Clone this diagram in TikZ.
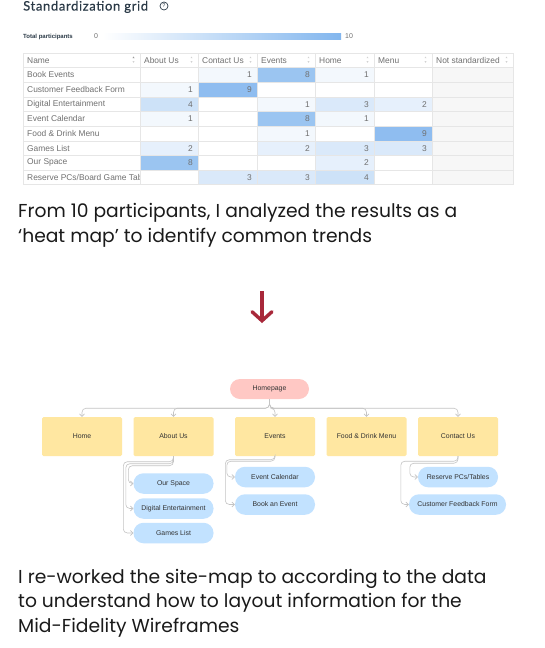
\documentclass[tikz,border=0pt]{standalone}
\usepackage{fontspec}
\setmainfont{Liberation Sans}
\newfontfamily\parafont{Poppins}
\newfontfamily\titlefont{Lato}[LetterSpace=5,FakeBold=0.5]
\usetikzlibrary{arrows.meta,calc}
\definecolor{heat}{HTML}{82B6EE}
\definecolor{gridline}{HTML}{E6E6E6}
\definecolor{celltext}{HTML}{707070}
\definecolor{titlecol}{HTML}{2B3A47}
\definecolor{nsbg}{HTML}{F7F7F7}
\definecolor{yel}{HTML}{FFE7A1}
\definecolor{pinkc}{HTML}{FFC8C4}
\definecolor{pillblue}{HTML}{C2E2FF}
\definecolor{conngray}{HTML}{C4C4C4}
\definecolor{darktext}{HTML}{333333}
\definecolor{redarr}{HTML}{A8283A}
\definecolor{paratext}{HTML}{1A1A1A}
\tikzset{
  celltxt/.style={inner sep=0pt, text=celltext, font=\fontsize{8.4}{9}\selectfont},
  ybox/.style={fill=yel, minimum width=80pt, minimum height=39pt, rounded corners=1.5pt, inner sep=0pt, text=darktext, font=\fontsize{6.9}{8}\selectfont},
  pill/.style={fill=pillblue, rounded corners=10pt, minimum width=80pt, minimum height=20.5pt, inner sep=0pt, text=darktext, font=\fontsize{6.9}{8}\selectfont},
  conn/.style={draw=conngray, line width=0.6pt, rounded corners=4pt, -{Straight Barb[length=2.5pt,width=5pt]}},
  paraline/.style={anchor=base west, inner sep=0pt, text=paratext, font=\parafont\fontsize{18.7}{22}\selectfont},
}
\begin{document}
\begin{tikzpicture}[x=1pt,y=-1pt]
\useasboundingbox (0,0) rectangle (544,648);
\fill[white] (0,0) rectangle (544,648);

% ---------- title ----------
\node[anchor=base west, inner sep=0pt, text=titlecol, font=\titlefont\fontsize{13}{16}\selectfont] (title) at (23,10.5) {Standardization grid};
\node[circle, draw=titlecol, line width=0.7pt, minimum size=8pt, inner sep=0pt, text=titlecol, font=\fontsize{5.5}{6}\selectfont] (info) at (164,6) {?};

% ---------- total participants ----------
\node[anchor=west, inner sep=0pt, text=titlecol, font=\bfseries\fontsize{6}{7}\selectfont] (tp) at (23,36.5) {Total participants};
\node[anchor=west, inner sep=0pt, text=celltext, font=\fontsize{7}{8}\selectfont] (tp0) at (94,36.5) {0};
\shade[left color=white, right color=heat] (103,33.5) rectangle (341,39.5);
\node[anchor=west, inner sep=0pt, text=celltext, font=\fontsize{7}{8}\selectfont] (tp10) at (345,36.5) {10};

% ---------- table ----------
\def\colx{{23,140,198,257,315,374,432,513}}
\def\rh{14.65}
\fill[nsbg] (432,53+\rh) rectangle (513,53+9*\rh);
\foreach \r/\vals in {1/{0,1,8,1,0},2/{1,9,0,0,0},3/{4,0,1,3,2},4/{1,0,8,1,0},5/{0,0,1,0,9},6/{2,0,2,3,3},7/{8,0,0,2,0},8/{0,3,3,4,0}}{
  \foreach \v [count=\c] in \vals {
    \pgfmathsetmacro\xl{\colx[\c]}
    \pgfmathsetmacro\xr{\colx[\c+1]}
    \pgfmathsetmacro\yt{53+\r*\rh}
    \pgfmathsetmacro\pct{int(\v*10)}
    \ifnum\v>0
      \fill[heat!\pct!white] (\xl,\yt) rectangle (\xr,\yt+\rh);
      \node[celltxt, anchor=east] (v\r-\c) at (\xr-5,\yt+\rh/2) {\v};
    \fi
  }
}
\foreach \nm [count=\r] in {Book Events,Customer Feedback Form,Digital Entertainment,Event Calendar,Food \& Drink Menu,Games List,Our Space}{
  \node[celltxt, anchor=west] (n\r) at (27,53+\r*\rh+\rh/2) {\nm};
}
\begin{scope}
\clip (23,53+8*\rh) rectangle (140,53+9*\rh);
\node[celltxt, anchor=west] (n8) at (27,53+8*\rh+\rh/2) {Reserve PCs/Board Game Tables};
\end{scope}
\foreach \hd [count=\c from 0] in {Name,About Us,Contact Us,Events,Home,Menu,Not standardized}{
  \pgfmathsetmacro\xl{\colx[\c]}
  \pgfmathsetmacro\xr{\colx[\c+1]}
  \node[celltxt, anchor=west] (h\c) at (\xl+4,53+\rh/2) {\hd};
  \fill[gray!35] (\xr-7.5,58.2) -- (\xr-5.5,58.2) -- (\xr-6.5,56.6) -- cycle;
  \fill[gray!35] (\xr-7.5,61.2) -- (\xr-5.5,61.2) -- (\xr-6.5,62.8) -- cycle;
}
\fill[gray!80] (140-7.5,58.2) -- (140-5.5,58.2) -- (140-6.5,56.6) -- cycle;
\foreach \i in {0,...,9}{
  \draw[gridline, line width=0.8pt] (23,53+\i*\rh) -- (513,53+\i*\rh);
}
\foreach \c in {0,...,7}{
  \pgfmathsetmacro\xx{\colx[\c]}
  \draw[gridline, line width=0.8pt] (\xx,53) -- (\xx,53+9*\rh);
}

% ---------- paragraph 1 ----------
\node[paraline] (p1a) at (18,217) {From 10 participants, I analyzed the results as a};
\node[paraline] (p1b) at (18,242) {‘heat map’ to identify common trends};

% ---------- red arrow ----------
\coordinate (arrA) at (262,291);
\coordinate (arrB) at (262,323);
\draw[redarr, line width=3.4pt, -{Straight Barb[length=9pt,width=20pt,line cap=round]}] (arrA) -- (arrB);

% ---------- sitemap ----------
\node[fill=pinkc, rounded corners=10pt, minimum width=79pt, minimum height=20pt, inner sep=0pt, text=darktext, font=\fontsize{6.9}{8}\selectfont] (hp) at (269.5,389) {Homepage};
\node[ybox] (s1) at (82,436.5) {Home};
\node[ybox] (s2) at (173.5,436.5) {About Us};
\node[ybox] (s3) at (275,436.5) {Events};
\node[ybox] (s4) at (366.5,436.5) {Food \& Drink Menu};
\node[ybox] (s5) at (458,436.5) {Contact Us};

\foreach \t in {s1,s2,s3,s4,s5}{
  \draw[conn] (hp.south) -- ++(0,9) -| (\t.north);
}

\node[pill] (a1) at (173.5,483.5) {Our Space};
\node[pill] (a2) at (173.5,508.5) {Digital Entertainment};
\node[pill] (a3) at (173.5,533) {Games List};
\node[pill] (e1) at (275,477) {Event Calendar};
\node[pill] (e2) at (275,504.5) {Book an Event};
\node[pill] (c1) at (458,477) {Reserve PCs/Tables};
\node[pill, minimum width=97pt] (c2) at (457.5,504.5) {Customer Feedback Form};

\draw[conn] (s2.south) -- ++(0,9.5) -| ([xshift=-5pt]a1.west) -- (a1.west);
\draw[conn] (s2.south) -- ++(0,7.5) -| ([xshift=-7.5pt]a2.west) -- (a2.west);
\draw[conn] (s2.south) -- ++(0,5.5) -| ([xshift=-10pt]a3.west) -- (a3.west);
\draw[conn] (s3.south) -- ++(0,5) -| ([xshift=-8pt]e1.west) -- (e1.west);
\draw[conn] (s3.south) -- ++(0,3.5) -| ([xshift=-9.5pt]e2.west) -- (e2.west);
\draw[conn] (s5.south) -- ++(0,7) -| ([xshift=-8pt]c1.west) -- (c1.west);
\draw[conn] (s5.south) -- ++(0,5) -| ([xshift=-8pt]c2.west) -- (c2.west);

% ---------- paragraph 2 ----------
\node[paraline] (p2a) at (18,583) {I re-worked the site-map to according to the data};
\node[paraline] (p2b) at (18,607.5) {to understand how to layout information for the};
\node[paraline] (p2c) at (18,632) {Mid-Fidelity Wireframes};
\end{tikzpicture}
\end{document}
